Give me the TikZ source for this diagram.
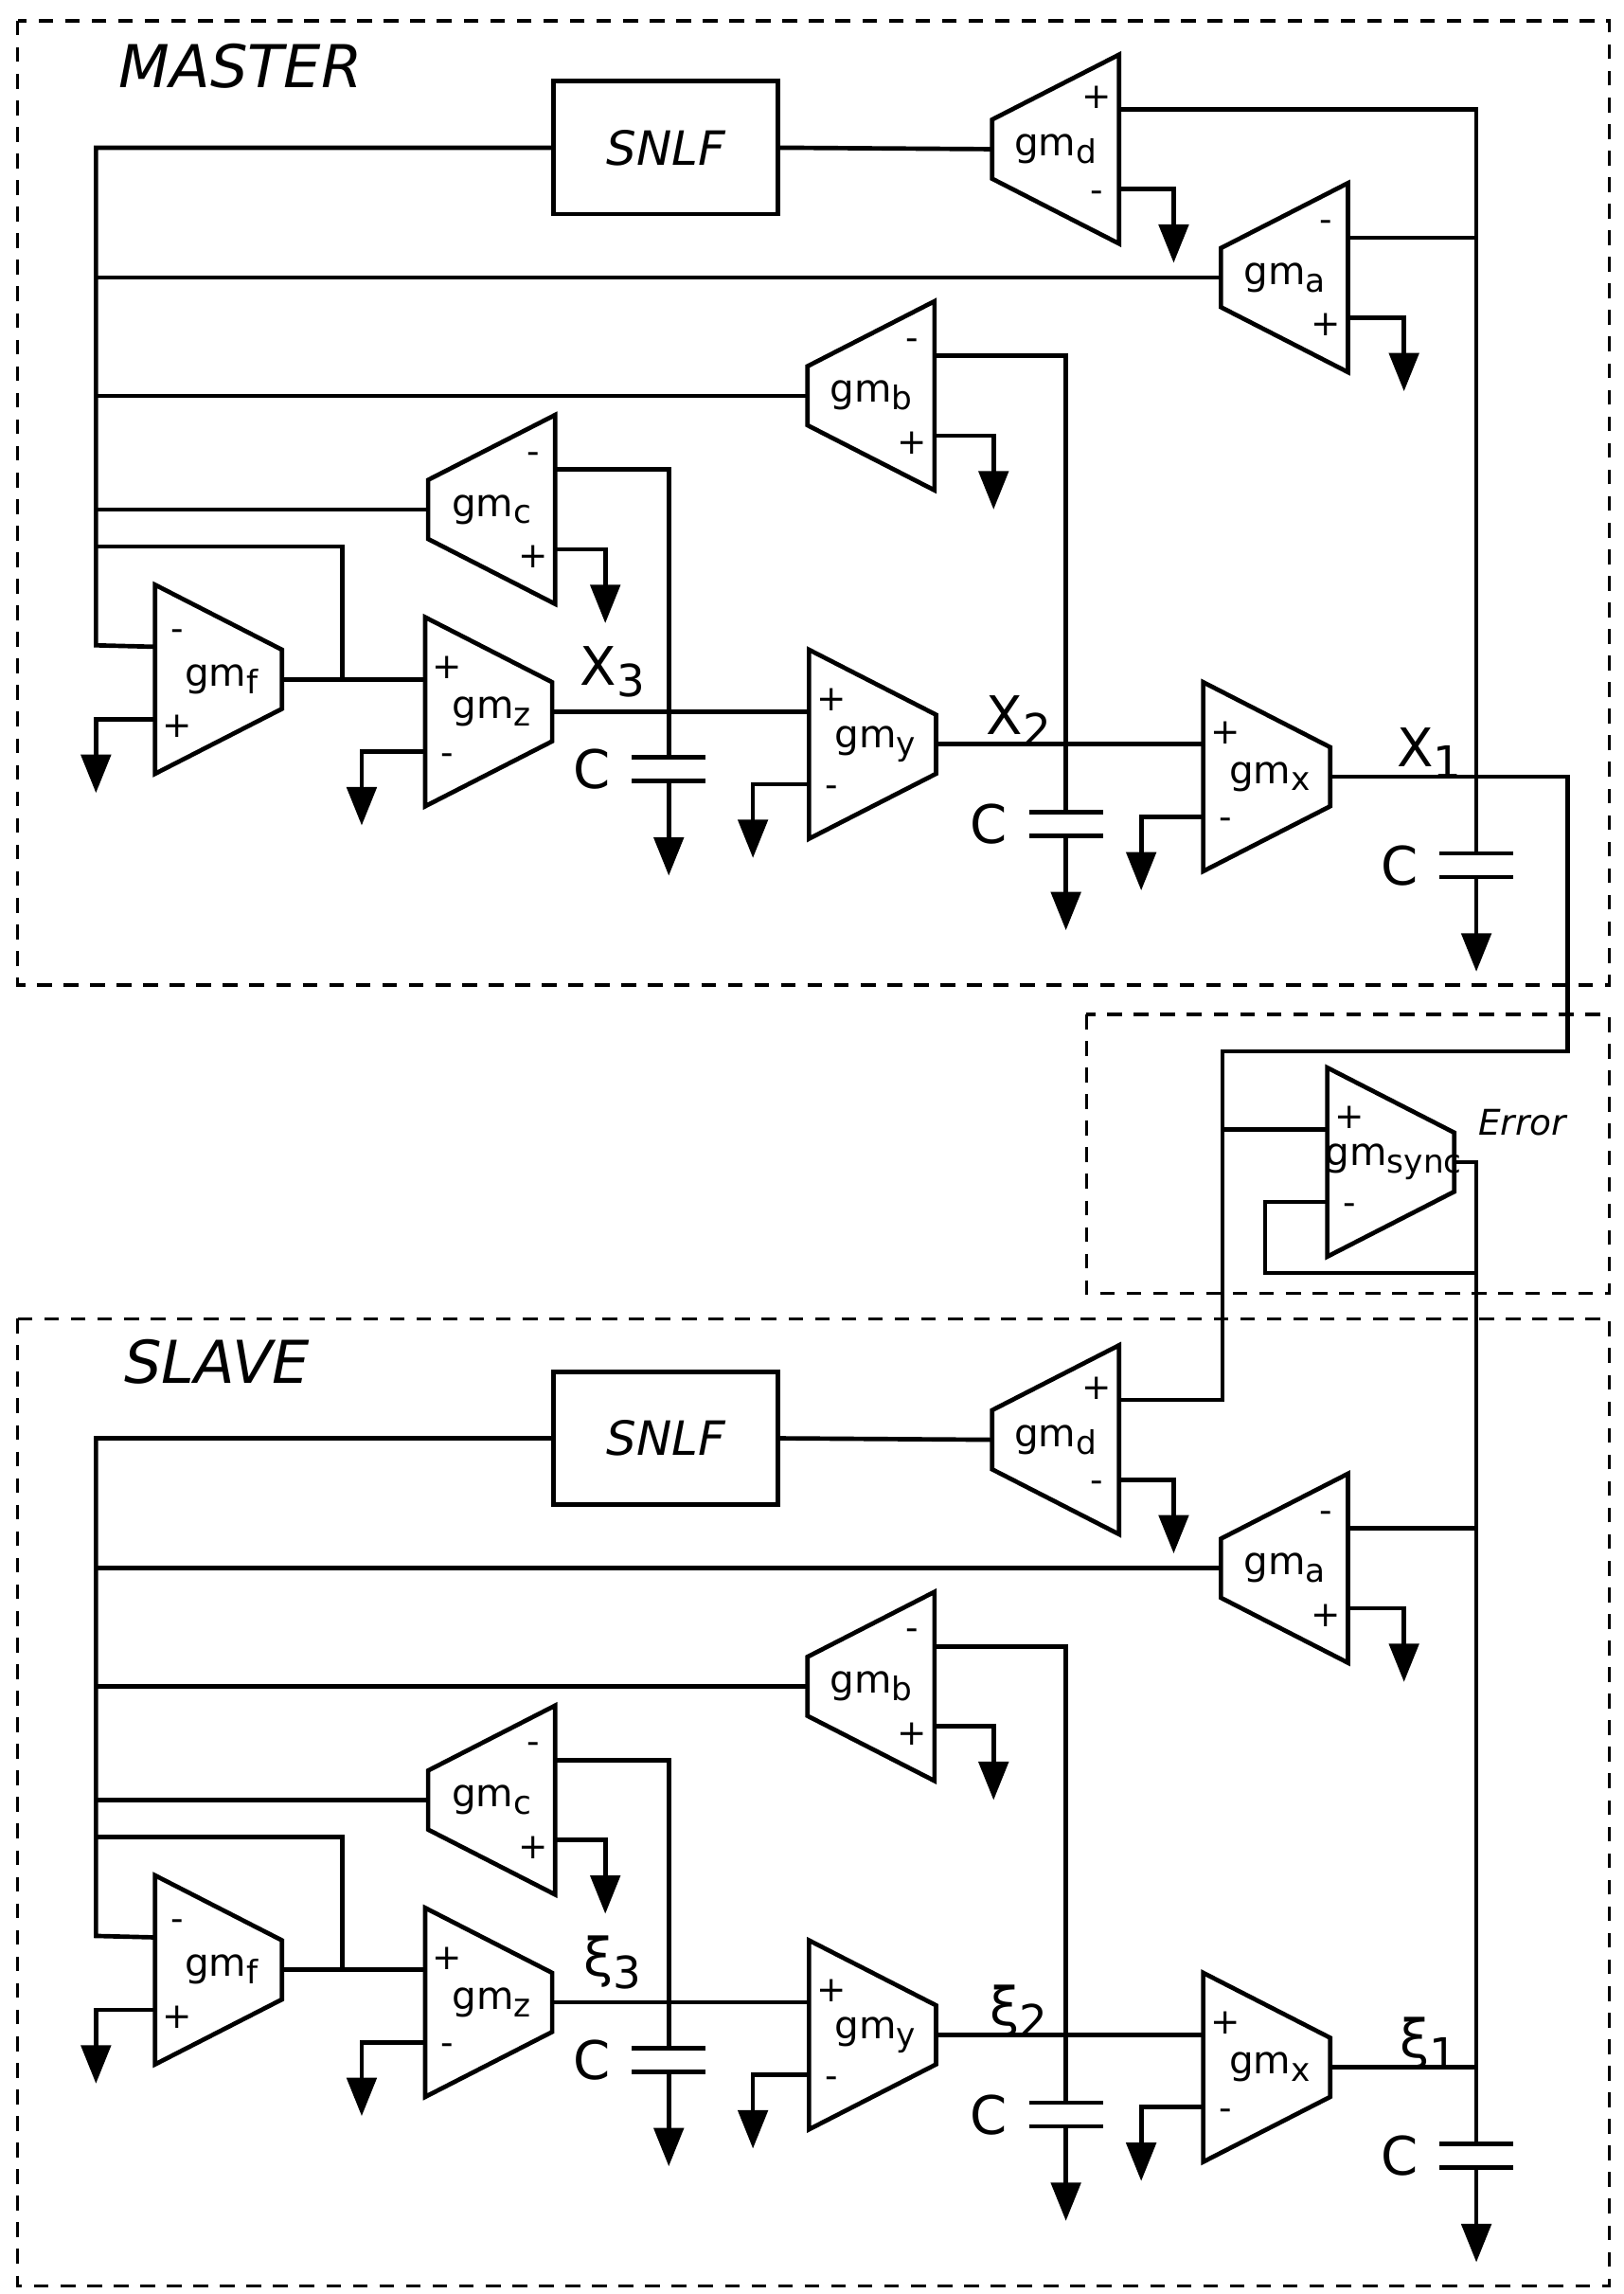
\documentclass[tikz,border=0pt]{standalone}
\usepackage{fontspec}
\setmainfont{DejaVu Sans}
\usetikzlibrary{arrows.meta}
\tikzset{
  w/.style={line width=1.5pt},
  amp/.style={w, line join=miter},
  lbl/.style={inner sep=0pt, font=\fontsize{13}{15}\selectfont},
  pm/.style={inner sep=0pt, font=\fontsize{12}{14}\selectfont},
  vlab/.style={inner sep=0pt, font=\fontsize{18}{20}\selectfont},
  gnd/.style={w, -{Triangle[width=10pt,length=13pt]}},
  box/.style={line width=1.1pt, dash pattern=on 5pt off 4pt},
}
\newcommand\gsub[1]{\raisebox{-0.35ex}{\fontsize{11}{11}\selectfont #1}}
\newcommand\vsub[1]{\raisebox{-0.4ex}{\fontsize{15}{15}\selectfont #1}}
% amplifier, wide side left: name, cx, cy, label, top sign, bottom sign
\newcommand\ampR[6]{%
  \draw[amp] (#2-43,#3-64) -- (#2+43,#3-20) -- (#2+43,#3+20) -- (#2-43,#3+64) -- cycle;
  \node[lbl] (#1) at (#2+2,#3) {#4};
  \coordinate (#1t) at (#2-43,#3-22);
  \coordinate (#1b) at (#2-43,#3+27);
  \coordinate (#1o) at (#2+43,#3);
  \node[pm] at (#2-28,#3-30) {#5};
  \node[pm] at (#2-28,#3+32) {#6};
}
% amplifier, wide side right
\newcommand\ampL[6]{%
  \draw[amp] (#2+43,#3-64) -- (#2-43,#3-20) -- (#2-43,#3+20) -- (#2+43,#3+64) -- cycle;
  \node[lbl] (#1) at (#2,#3) {#4};
  \coordinate (#1t) at (#2+43,#3-27);
  \coordinate (#1b) at (#2+43,#3+27);
  \coordinate (#1o) at (#2-43,#3);
  \node[pm] at (#2+28,#3-35) {#5};
  \node[pm] at (#2+28,#3+32) {#6};
}
% capacitor: name, x, y of top plate
\newcommand\capa[3]{%
  \coordinate (#1) at (#2,#3);
  \draw[w] (#2-25,#3) -- (#2+25,#3);
  \draw[w] (#2-25,#3+16) -- (#2+25,#3+16);
  \draw[gnd] (#2,#3+16) -- (#2,#3+80);
  \node[vlab] at (#2-52,#3+8) {C};
}
\newcommand\gnd[2]{\draw[gnd] (#1) -- ++(#2,0) -- ++(0,50);}
% one loop: prefix, labels of x3, x2, x1
\newcommand\stage[4]{%
  \node[w, draw, minimum width=76pt, minimum height=45pt, inner sep=0pt,
        font=\itshape\fontsize{16}{18}\selectfont] (#1snlf) at (451,100) {SNLF};
  \ampL{#1d}{715}{101}{gm\gsub{d}}{+}{-}
  \ampL{#1a}{870}{188}{gm\gsub{a}}{-}{+}
  \ampL{#1b}{590}{268}{gm\gsub{b}}{-}{+}
  \ampL{#1c}{333}{345}{gm\gsub{c}}{-}{+}
  \ampR{#1f}{148}{460}{gm\gsub{f}}{-}{+}
  \ampR{#1z}{331}{482}{gm\gsub{z}}{+}{-}
  \ampR{#1y}{591}{504}{gm\gsub{y}}{+}{-}
  \ampR{#1x}{858}{526}{gm\gsub{x}}{+}{-}
  \capa{#1c3}{453}{513}
  \capa{#1c2}{722}{550}
  \capa{#1c1}{1000}{578}
  \coordinate (#1bus) at (65,437);
  \coordinate (#1fj) at (232,460);
  \draw[w] (#1do) -- (#1snlf.east);
  \draw[w] (#1snlf.west) -| (#1bus) -- (#1ft);
  \draw[w] (#1ao) -- (#1ao -| #1bus);
  \draw[w] (#1bo) -- (#1bo -| #1bus);
  \draw[w] (#1co) -- (#1co -| #1bus);
  \draw[w] (#1fo) -- (#1zt);
  \draw[w] (#1fj) |- (65,370);
  \draw[w] (#1zo) -- (#1yt);
  \draw[w] (#1yo) -- (#1xt);
  \draw[w] (#1ct) -| (#1c3);
  \draw[w] (#1bt) -| (#1c2);
  \draw[w] (#1at) -- (#1at -| #1c1);
  \gnd{#1db}{37} \gnd{#1ab}{38} \gnd{#1bb}{40} \gnd{#1cb}{34}
  \gnd{#1fb}{-40} \gnd{#1zb}{-43} \gnd{#1yb}{-38} \gnd{#1xb}{-42}
  \node[vlab] at (415,455) {#2};
  \node[vlab] at (690,488) {#3};
  \node[vlab] at (968,510) {#4};
}
\begin{document}
\begin{tikzpicture}[x=0.5pt, y=-0.5pt]
\useasboundingbox (0,0) rectangle (1100,1553.5);
% master
\stage{m}{X\vsub{3}}{X\vsub{2}}{X\vsub{1}}
\draw[box] (12,14) rectangle (1090,667);
\node[inner sep=0pt, font=\itshape\fontsize{20}{22}\selectfont] (mtitle) at (163,45) {MASTER};
\draw[w] (mdt) -| (mc1);
% slave
\begin{scope}[yshift=-437pt]
\stage{s}{ξ\vsub{3}}{ξ\vsub{2}}{ξ\vsub{1}}
\end{scope}
\draw[box] (12,893) rectangle (1090,1548);
\node[inner sep=0pt, font=\itshape\fontsize{20}{22}\selectfont] (stitle) at (147,922) {SLAVE};
% synchronisation
\draw[box] (736,687) rectangle (1090,876);
\ampR{g}{942}{787}{gm\gsub{sync}}{+}{-}
\node[inner sep=0pt, font=\itshape\fontsize{12}{14}\selectfont] (err) at (1031,760) {Error};
\coordinate (k1) at (1062,712);
\coordinate (k2) at (828,712);
\draw[w] (mxo) -| (k1) -- (k2) |- (sdt);
\draw[w] (gt) -- (gt -| k2);
\draw[w] (go) -| (sc1);
\draw[w] (gb) -- ++(-42,0) |- (1000,862);
\draw[w] (sxo) -- (sxo -| sc1);
\draw[w] (sat) -- (sat -| sc1);
\end{tikzpicture}
\end{document}
